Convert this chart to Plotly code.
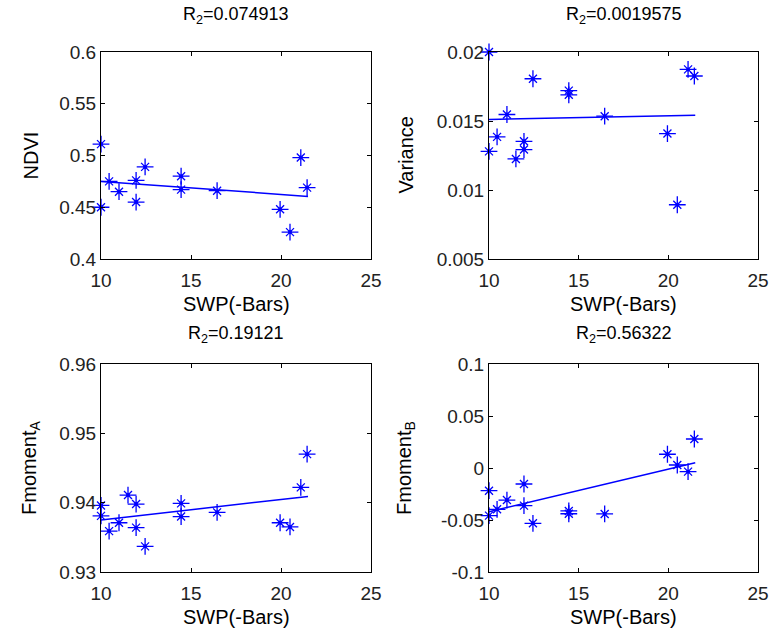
import plotly.graph_objects as go

# SWP(-Bars) for each sample
swp = [10, 10, 10.45, 11, 11.5, 11.95, 11.95, 12.45, 14.45, 14.45, 16.45, 19.95, 20.5, 21.1, 21.45]

# None = no marker visible at that sample in the panel
ndvi = [0.511, 0.450, 0.475, 0.465, None, 0.476, 0.455, 0.489, 0.480, 0.467, 0.466, 0.448, 0.426, 0.498, 0.469]
variance = [0.0200, 0.0128, 0.01385, 0.01547, 0.01225, 0.01353, 0.01293, 0.01806, 0.01720, 0.01690,
            0.01535, 0.01409, 0.00893, 0.01874, 0.01826]
fmoment_a = [0.9396, 0.9381, 0.9359, 0.9371, 0.9411, 0.9398, 0.9364, 0.9337, 0.9399, 0.9380,
             0.9386, 0.9371, 0.9365, 0.9422, 0.9470]
fmoment_b = [-0.0218, -0.0458, -0.0397, -0.0308, None, -0.0154, -0.0362, -0.0532, -0.0413, -0.0440,
             -0.0442, 0.0132, 0.0029, -0.0035, 0.0279]

# fitted lines (end points)
fit_x = [10, 21.5]
ndvi_fit = [0.475, 0.4605]
variance_fit = [0.01511, 0.01542]
fmoment_a_fit = [0.9375, 0.9409]
fmoment_b_fit = [-0.042, 0.0051]

r2 = ["0.074913", "0.0019575", "0.19121", "0.56322"]
ylabels = ["NDVI", "Variance", "Fmoment<sub>A</sub>", "Fmoment<sub>B</sub>"]

fmoment_b_ticks = [-0.1, -0.05, 0, 0.05, 0.1]
fmoment_b_text = ["-0.1", "-0.05", "0", "0.05", "0.1"]

BLUE = "#0000ff"
FONT = "Liberation Sans, Arial, sans-serif"

fig = go.Figure()

panels = [
    (ndvi, ndvi_fit, "x", "y"),
    (variance, variance_fit, "x2", "y2"),
    (fmoment_a, fmoment_a_fit, "x3", "y3"),
    (fmoment_b, fmoment_b_fit, "x4", "y4"),
]

for vals, fit, xa, ya in panels:
    fig.add_trace(go.Scatter(x=fit_x, y=fit, mode="lines", xaxis=xa, yaxis=ya,
                             line=dict(color=BLUE, width=1.5), showlegend=False))
    # matlab style '*' marker: long plus, shorter x, dot in the middle
    fig.add_trace(go.Scatter(x=swp, y=vals, mode="markers", xaxis=xa, yaxis=ya, cliponaxis=False,
                             marker=dict(symbol="cross-thin-open", size=12, color=BLUE,
                                         line=dict(color=BLUE, width=1.3)),
                             showlegend=False))
    fig.add_trace(go.Scatter(x=swp, y=vals, mode="markers", xaxis=xa, yaxis=ya, cliponaxis=False,
                             marker=dict(symbol="x-thin-open", size=8, color=BLUE,
                                         line=dict(color=BLUE, width=1.3)),
                             showlegend=False))
    fig.add_trace(go.Scatter(x=swp, y=vals, mode="markers", xaxis=xa, yaxis=ya, cliponaxis=False,
                             marker=dict(symbol="circle", size=4, color=BLUE),
                             showlegend=False))

W, H = 771, 631
xd = [[101 / W, 371 / W], [489 / W, 758 / W]]
yd = [[1 - 259 / H, 1 - 52 / H], [1 - 572 / H, 1 - 364 / H]]

axis_common = dict(showline=True, linecolor="black", linewidth=1, mirror="ticks",
                   ticks="inside", ticklen=4, tickcolor="black", showgrid=False,
                   zeroline=False, automargin=False,
                   tickfont=dict(family=FONT, size=19, color="#222222"))

xaxes = {}
yaxes = {}
yranges = [[0.4, 0.6], [0.005, 0.02], [0.93, 0.96], [-0.1, 0.1]]
ydticks = [0.05, 0.005, 0.01, 0.05]
for i in range(4):
    row, col = divmod(i, 2)
    n = "" if i == 0 else str(i + 1)
    xaxes["xaxis" + n] = dict(axis_common, domain=xd[col], range=[10, 25], dtick=5,
                              anchor="y" + n, ticklabelstandoff=4)
    ya = dict(axis_common, domain=yd[row], range=yranges[i], dtick=ydticks[i],
              anchor="x" + n)
    if i == 3:
        ya.update(tickmode="array", tickvals=fmoment_b_ticks, ticktext=fmoment_b_text)
    yaxes["yaxis" + n] = ya

annotations = []
title_y = [1 - 16 / H, 1 - 334 / H]
xlabel_y = [1 - 304 / H, 1 - 617 / H]
ylabel_x = [30 / W, 405 / W]
for i in range(4):
    row, col = divmod(i, 2)
    xc = (xd[col][0] + xd[col][1]) / 2
    yc = (yd[row][0] + yd[row][1]) / 2
    annotations.append(dict(text="R<sub>2</sub>=" + r2[i], x=xc, y=title_y[row],
                            xref="paper", yref="paper", showarrow=False,
                            xanchor="center", yanchor="middle",
                            font=dict(family=FONT, size=18, color="black")))
    annotations.append(dict(text="SWP(-Bars)", x=xc, y=xlabel_y[row],
                            xref="paper", yref="paper", showarrow=False,
                            xanchor="center", yanchor="middle",
                            font=dict(family=FONT, size=20, color="black")))
    annotations.append(dict(text=ylabels[i], x=ylabel_x[col], y=yc, textangle=-90,
                            xref="paper", yref="paper", showarrow=False,
                            xanchor="center", yanchor="middle",
                            font=dict(family=FONT, size=20, color="black")))

fig.update_layout(width=W, height=H, margin=dict(l=0, r=0, t=0, b=0),
                  paper_bgcolor="white", plot_bgcolor="white",
                  annotations=annotations, **xaxes, **yaxes)

# drop the default page margin so the figure sits at the window's corner
fig.write_html("out.html", config={"displayModeBar": False},
               post_script="document.body.style.margin='0';document.body.style.overflow='hidden';")
